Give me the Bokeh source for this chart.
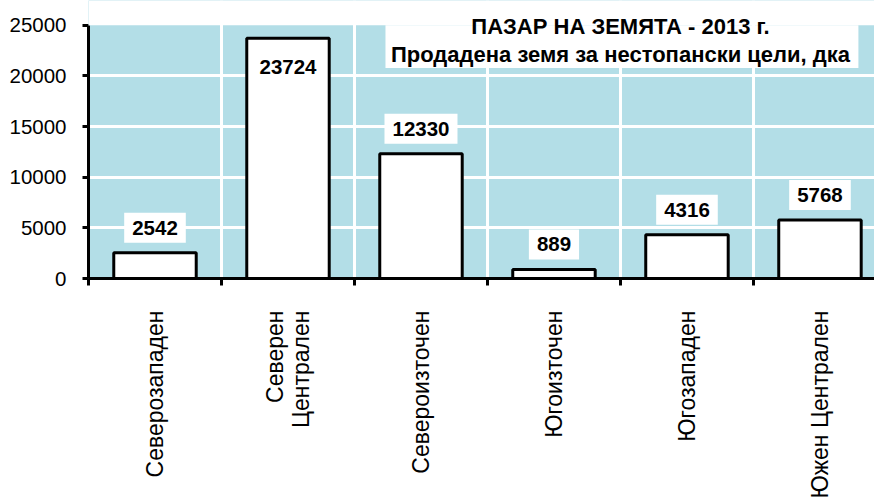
import math
from bokeh.plotting import figure
from bokeh.models import Range1d, FixedTicker, Label, BoxAnnotation, ColumnDataSource
from bokeh.embed import file_html
from bokeh.resources import INLINE

# ---- data ----
categories = ["Северозападен", "Северен\nЦентрален", "Североизточен",
              "Югоизточен", "Югозападен", "Южен Централен"]
values = [2542, 23724, 12330, 889, 4316, 5768]
y_ticks = [0, 5000, 10000, 15000, 20000, 25000]
title_line1 = "ПАЗАР НА ЗЕМЯТА - 2013 г."
title_line2 = "Продадена земя за нестопански цели, дка"

FONT_NAME = "Liberation Sans"
YMAX = y_ticks[-1]
YTOP = YMAX * 280 / 255          # frame reaches the top of the canvas

centers = [i + 0.5 for i in range(len(categories))]
boundaries = list(range(len(categories)))

p = figure(width=874, height=501, output_backend="svg", toolbar_location=None,
           x_range=Range1d(0, 5.91), y_range=Range1d(0, YTOP),
           min_border_left=88, min_border_right=0, min_border_top=0,
           min_border_bottom=221)
p.background_fill_color = "#b3dee7"
p.border_fill_color = "white"
p.outline_line_color = None

# y axis
p.yaxis.ticker = FixedTicker(ticks=y_ticks)
p.yaxis.bounds = (0, YMAX)
p.yaxis.axis_line_width = 3
p.yaxis.axis_line_color = "black"
p.yaxis.major_tick_line_width = 3
p.yaxis.major_tick_out = 6
p.yaxis.major_tick_in = 0
p.yaxis.minor_tick_line_color = None
p.yaxis.major_label_standoff = 16
p.yaxis.major_label_text_font = FONT_NAME
p.yaxis.major_label_text_font_size = "20.5px"
p.yaxis.major_label_text_color = "black"

# x axis: labels at category centres, tick marks at category boundaries
p.xaxis.ticker = FixedTicker(ticks=centers, minor_ticks=boundaries)
p.xaxis.major_label_overrides = {c: cat for c, cat in zip(centers, categories)}
p.xaxis.major_label_orientation = math.pi / 2
p.xaxis.major_label_text_font = FONT_NAME
p.xaxis.major_label_text_font_size = "23px"
p.xaxis.major_label_text_line_height = 1.0
p.xaxis.major_label_text_color = "black"
p.xaxis.major_label_standoff = 25
p.xaxis.axis_line_width = 3
p.xaxis.axis_line_color = "black"
p.xaxis.major_tick_line_color = None
p.xaxis.major_tick_out = 0
p.xaxis.major_tick_in = 0
p.xaxis.minor_tick_line_color = "black"
p.xaxis.minor_tick_line_width = 3
p.xaxis.minor_tick_out = 7
p.xaxis.minor_tick_in = 0

# grids
p.xgrid.ticker = FixedTicker(ticks=boundaries[1:])
p.xgrid.grid_line_color = "white"
p.xgrid.grid_line_width = 3
p.ygrid.ticker = FixedTicker(ticks=y_ticks[1:-1])
p.ygrid.grid_line_color = "white"
p.ygrid.grid_line_width = 3

src = ColumnDataSource(dict(x=centers, v=values))
p.vbar(x="x", top="v", bottom=0, width=0.62, source=src,
       fill_color="white", line_color="black", line_width=3)

# white area above the top of the value scale
p.add_layout(BoxAnnotation(left=0, right=5.91, bottom=YMAX, top=YTOP,
                           fill_color="white", fill_alpha=1.0, line_color=None))

# value labels
for xc, v in zip(centers, values):
    off = 25 if v < 0.9 * YMAX else -29
    p.add_layout(Label(x=xc, y=v, y_offset=off, text=str(v),
                       text_align="center", text_baseline="middle",
                       text_font=FONT_NAME, text_font_style="bold",
                       text_font_size="20.5px", text_color="black",
                       background_fill_color="white", padding=8))

# title box
p.add_layout(BoxAnnotation(left=2.233, right=5.789, bottom=20784, top=YMAX,
                           fill_color="white", fill_alpha=1.0, line_color=None))
p.add_layout(Label(x=4.0, y=YMAX, y_offset=-1, text=title_line1,
                   text_align="center", text_baseline="middle",
                   text_font=FONT_NAME, text_font_style="bold",
                   text_font_size="22px", text_color="black"))
p.add_layout(Label(x=4.0, y=YMAX, y_offset=-29.5, text=title_line2,
                   text_align="center", text_baseline="middle",
                   text_font=FONT_NAME, text_font_style="bold",
                   text_font_size="22px", text_color="black"))

open("out.html", "w").write(file_html(p, INLINE))
